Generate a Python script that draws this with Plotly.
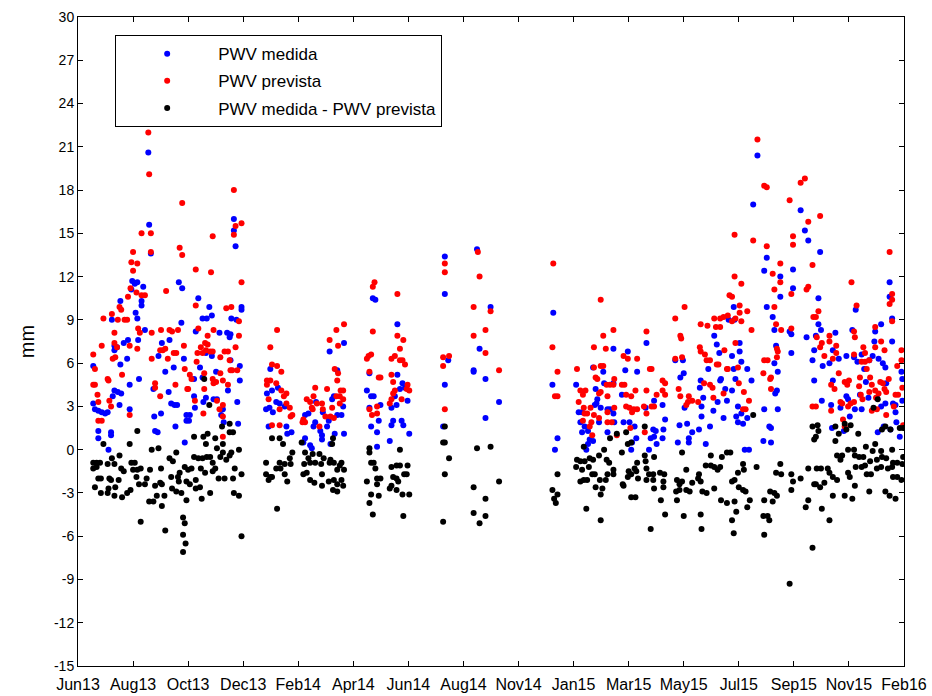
import pandas as pd
import plotly.graph_objects as go

# ---- data: (day offset from 2013-06-01, mm) ----
medida = [
(18,5.8),(18,3.2),(20,2.8),(24,2.7),(28,2.6),(32,2.5),(35,2.6),(24,1.3),(24,0.8),(39,1.2),(39,1.0),(36,0.0),(40,9.0),(43,7.2),(43,6.9),(46,7.1),(50,5.9),(43,4.1),(47,4.0),(51,3.9),(49,3.1),(41,3.7),(50,10.3),(54,7.4),(59,7.6),(58,6.3),(61,4.5),(61,2.8),(63,11.1),(64,11.7),(67,11.5),(70,11.6),(75,10.3),(75,10.0),(68,9.5),(70,9.1),(71,7.6),(72,4.9),(79,8.3),(77,11.3),(83,20.6),(84,15.6),(86,13.6),(89,4.2),(90,2.3),(91,1.3),(94,1.2),(95,6.5),(98,2.5),(99,7.4),(103,5.4),(107,4.0),(108,7.6),(110,3.2),(113,5.7),(114,3.1),(117,3.1),(115,1.6),(119,11.6),(123,11.2),(122,8.8),(125,6.3),(128,2.4),(128,2.0),(126,0.5),
(139,8.2),(142,10.5),(147,9.1),(152,9.1),(158,9.3),(155,9.9),(137,4.9),(144,5.7),(147,5.0),(151,6.7),(158,6.5),(163,5.4),(167,8.1),(176,8.1),(179,7.8),(180,8.0),(180,6.2),(181,9.1),(177,4.1),(171,2.8),(172,1.9),(169,2.4),(137,3.7),(138,2.9),(132,2.4),(131,2.0),(148,3.3),(151,3.6),(160,3.5),(164,3.5),(184,16.0),(184,15.2),(186,14.1),(187,9.0),(193,9.9),(193,9.7),(191,4.8),(188,3.3),(189,1.8),(191,5.8),
(227,5.6),(223,3.9),(229,4.1),(234,3.3),(222,2.8),(226,2.9),(230,2.6),(238,3.2),(244,3.0),(236,4.3),(225,1.6),(246,1.6),(247,1.1),(252,1.2),(266,0.5),(268,0.8),(274,0.3),(276,0.1),(268,2.4),(272,2.5),(278,1.6),(280,1.9),(281,3.3),(286,1.3),(288,1.0),(288,0.7),(294,1.6),(296,2.0),(298,0.4),(303,1.1),(297,6.8),(314,7.4),(306,5.5),(302,3.7),(306,2.4),(311,2.4),(313,3.0),(314,1.1),(300,3.5),(289,2.6),
(348,10.5),(351,10.4),(344,5.3),(341,4.1),(346,3.7),(349,3.7),(344,2.9),(357,3.1),(355,2.0),(346,1.6),(353,1.2),(353,0.2),(377,8.7),(377,5.2),(383,4.6),(380,4.2),(386,4.3),(374,3.7),(389,3.4),(376,3.1),(370,2.9),(372,2.0),(370,1.7),(382,2.0),(384,1.7),(391,1.1),(368,0.6),(433,13.4),(433,10.8),(437,6.2),(433,4.5),(431,1.6),(471,13.9),(487,9.9),(474,7.0),(467,5.5),(467,5.4),(481,4.9),(497,3.3),(481,2.2),
(561,9.5),(560,4.5),(566,0.8),(563,0.0),(632,7.0),(649,6.8),(608,5.7),(620,5.4),(588,4.5),(611,4.2),(621,4.6),(632,4.6),(646,5.5),(660,5.4),(613,3.5),(612,3.2),(617,2.9),(625,2.8),(628,2.8),(632,2.5),(610,3.1),(591,2.6),(595,2.6),(593,1.9),(598,1.6),(602,1.3),(595,1.2),(604,0.7),(608,0.6),(602,0.4),(600,0.0),(615,1.9),(625,1.2),(633,1.9),(642,3.8),(651,1.9),(644,1.9),(657,1.6),(654,0.5),(653,0.0),(659,0.8),
(671,7.4),(670,2.9),(680,3.4),(676,0.8),(680,0.9),(674,0.0),(682,1.3),(679,1.4),(683,0.4),(690,0.8),(691,1.4),(693,2.1),(690,3.1),(705,6.2),(711,5.0),(714,6.2),(715,5.3),(716,2.9),(710,1.7),(719,1.8),(721,0.8),(721,0.5),(708,0.5),(725,1.2),(733,1.4),(736,2.3),(736,3.0),(738,3.6),(734,4.3),(735,4.8),(744,5.6),(741,0.4),(746,1.6),(750,2.7),(755,3.3),(758,4.8),(759,4.9),(762,2.2),(751,7.9),(754,7.3),(757,6.7),(764,4.2),(766,3.4),(768,9.0),
(802,20.4),(797,17.0),(853,16.6),(858,15.2),(862,14.5),(813,13.3),(844,12.5),(810,12.4),(829,12.0),(829,10.6),(844,11.2),(813,9.9),(820,9.2),(822,8.3),(840,8.2),(842,8.0),(860,7.8),(869,6.9),(867,6.2),(842,6.7),(824,7.2),(822,6.0),(826,5.4),(823,3.9),(825,4.1),(826,2.8),(810,2.8),(816,1.6),(818,1.5),(809,0.6),(818,0.5),(869,4.8),(774,9.9),(775,9.0),(781,7.4),(781,6.8),(783,6.1),(772,6.5),(774,5.6),(776,4.9),(790,5.6),(795,4.8),(772,4.1),(779,3.0),(777,2.3),(783,2.5),(779,1.9),(785,1.8),(790,2.2),(787,0.0),(792,0.0),
(876,13.7),(874,10.5),(874,8.7),(877,8.3),(871,7.9),(879,5.8),(878,3.4),(894,8.1),(891,6.9),(887,6.0),(898,6.3),(918,9.7),(914,8.3),(907,6.5),(916,6.4),(920,6.1),(925,6.6),(928,5.6),(930,4.7),(934,6.2),(938,6.5),(940,7.5),(941,8.2),(948,8.7),(945,6.3),(950,6.0),(953,5.7),(954,4.6),(958,11.6),(958,10.6),(961,9.1),(961,7.5),(972,5.4),(973,4.9),(973,3.4),(891,4.8),(889,3.1),(900,2.9),(909,3.5),(907,3.7),(917,2.8),(923,3.8),(925,2.8),(933,3.6),(943,3.6),(948,3.0),(953,3.2),(962,3.2),(965,3.1),(965,2.6),(966,1.9),(970,0.9),(944,1.2),(951,1.6),(959,1.4),(890,1.5),(911,2.3),(904,1.3),
]

prevista = [
(18,6.6),(20,5.6),(18,4.5),(20,4.5),(23,3.8),(24,3.3),(24,2.0),(28,2.0),(28,7.2),(30,9.1),(35,4.9),(36,4.8),(37,3.4),(39,3.0),(40,9.4),(43,8.1),(43,7.4),(41,6.3),(44,6.4),(46,7.1),(47,9.0),(49,9.9),(51,9.7),(52,5.2),(55,9.0),(58,9.0),(59,10.6),(62,11.2),(63,13.0),(70,12.9),(65,12.4),(65,13.7),(61,7.2),(61,2.4),(71,8.4),(73,8.1),(69,10.9),(75,10.7),(79,10.7),(70,7.0),(75,15.0),(86,15.0),(83,22.0),(84,19.1),(86,13.7),(87,8.1),(87,6.3),(91,4.6),(91,4.3),(97,3.7),(97,6.9),(98,8.3),(100,6.9),(103,7.0),(104,11.0),(106,6.3),(108,8.3),(111,8.2),(113,6.7),(116,6.7),(115,4.5),(118,8.3),(120,14.0),(123,13.5),(123,17.1),(125,7.2),(126,5.6),(129,4.2),
(139,12.5),(139,10.0),(142,8.4),(141,6.7),(140,6.1),(132,5.2),(134,4.9),(130,4.2),(138,3.4),(145,7.1),(147,6.7),(150,7.4),(151,6.9),(149,4.2),(148,2.5),(149,5.3),(153,7.9),(153,7.3),(156,6.8),(159,6.8),(157,12.3),(159,14.8),(160,8.3),(159,4.9),(160,4.6),(163,4.7),(164,3.4),(167,2.8),(168,5.3),(168,6.4),(171,3.1),(171,2.3),(171,0.9),(171,4.8),(173,6.8),(177,6.8),(175,9.8),(179,6.2),(181,9.9),(177,4.5),(180,5.5),(182,5.5),(184,18.0),(184,14.9),(186,15.5),(193,15.7),(186,7.1),(188,5.5),(190,8.9),(190,7.9),(193,11.6),
(235,8.3),(227,7.1),(229,5.9),(235,5.8),(240,5.4),(223,4.8),(227,4.8),(223,4.5),(234,4.6),(225,3.5),(240,4.1),(246,3.9),(243,3.7),(246,3.2),(238,2.8),(250,2.9),(253,2.4),(251,2.3),(229,1.7),(238,1.7),(266,2.1),(268,1.9),(265,1.9),(270,3.5),(274,3.3),(277,2.8),(280,4.3),(278,3.7),(282,3.2),(288,3.2),(289,2.8),(285,1.6),(292,2.3),(294,4.2),(297,7.6),(305,8.3),(314,8.7),(307,7.2),(303,5.6),(307,5.3),(306,4.8),(310,4.1),(313,4.1),(305,3.7),(309,3.7),(313,3.5),(300,2.9),(298,2.3),(302,2.2),(309,3.2),(276,2.9),
(350,11.6),(348,11.3),(348,8.2),(343,6.5),(346,6.6),(341,6.3),(344,5.4),(355,5.0),(357,5.0),(344,2.8),(347,2.4),(353,2.5),(353,3.0),(377,10.8),(377,7.9),(384,7.6),(380,7.0),(370,6.3),(374,6.5),(380,6.2),(383,6.2),(386,5.9),(370,5.2),(372,4.7),(389,4.5),(388,4.2),(391,4.1),(374,4.1),(372,3.9),(370,3.5),(368,3.2),(382,3.5),(433,12.9),(433,12.3),(431,6.4),(438,6.5),(431,5.8),(433,2.8),(472,13.7),(474,12.0),(467,9.9),(481,8.3),(467,7.9),(481,6.7),(487,9.6),(497,5.5),
(561,12.9),(560,7.1),(566,5.4),(563,3.7),(566,3.7),(617,10.4),(620,7.9),(632,8.3),(609,7.1),(623,7.0),(589,5.6),(609,5.7),(617,5.8),(620,5.8),(611,5.0),(613,4.9),(593,4.1),(599,4.1),(596,3.8),(591,3.3),(615,3.9),(617,4.0),(624,4.5),(628,4.5),(632,4.5),(633,4.9),(625,3.7),(597,2.9),(605,2.9),(598,2.5),(601,2.5),(609,2.4),(596,2.0),(606,1.9),(604,1.6),(615,2.2),(625,1.9),(630,1.9),(625,2.6),(633,2.9),(607,1.0),(636,1.0),(644,6.5),(649,6.3),(660,6.3),(642,4.5),(645,4.5),(647,3.8),(653,3.7),(658,4.1),(647,3.0),(651,2.9),(656,2.8),(660,2.8),(654,2.6),(652,1.5),
(671,8.2),(675,5.6),(677,5.6),(671,4.1),(671,2.5),(669,1.2),(668,3.0),(677,3.0),(680,3.0),(690,4.8),(693,4.6),(690,4.1),(693,3.8),(683,3.8),(705,9.1),(711,7.9),(712,7.7),(716,9.9),(705,6.3),(713,6.4),(709,4.2),(711,3.7),(721,3.7),(720,3.3),(718,3.1),(725,3.4),(732,3.3),(735,8.7),(734,7.1),(735,6.8),(743,8.6),(751,9.1),(758,9.1),(762,9.2),(767,9.3),(753,8.5),(758,8.5),(742,6.2),(746,6.2),(739,4.6),(746,4.5),(749,4.3),(754,5.9),(756,5.9),(740,6.6),(763,6.9),(769,10.7),(766,5.6),(767,5.6),(750,3.6),(762,3.9),
(802,21.5),(810,18.3),(813,18.2),(858,18.8),(853,18.5),(840,17.3),(862,15.8),(775,14.9),(797,14.5),(844,14.8),(844,14.2),(813,14.1),(829,12.9),(820,12.2),(829,11.6),(822,11.1),(842,10.8),(860,11.1),(862,11.3),(775,12.0),(783,11.5),(772,10.6),(781,10.0),(781,9.5),(790,9.6),(776,9.1),(772,8.9),(783,8.9),(795,8.3),(776,7.4),(779,5.7),(786,4.0),(780,4.6),(792,3.4),(785,2.8),(788,2.8),(822,9.9),(824,8.7),(830,8.3),(842,8.4),(825,7.0),(826,6.8),(825,6.4),(814,6.2),(810,6.2),(818,5.0),(817,4.9),(809,5.3),(818,4.2),(867,12.8),(867,3.0),(868,9.2),
(876,16.2),(871,9.2),(874,9.6),(887,7.9),(887,7.5),(878,7.4),(876,7.1),(872,7.8),(895,7.2),(895,6.7),(881,6.5),(891,6.3),(913,11.6),(919,10.0),(916,8.2),(917,7.8),(916,6.6),(927,7.1),(929,6.7),(925,6.1),(929,6.1),(934,6.2),(941,8.5),(948,7.5),(952,6.9),(941,7.1),(958,13.7),(961,10.8),(961,10.4),(958,10.1),(961,8.9),(972,6.9),(972,6.2),(967,5.8),(898,5.3),(889,4.5),(893,4.2),(905,4.7),(910,4.8),(908,4.5),(923,5.0),(922,4.4),(931,5.6),(935,5.0),(937,4.5),(934,4.0),(941,4.1),(945,3.9),(947,4.7),(950,4.6),(952,4.2),(954,4.0),(957,4.9),(965,3.8),(968,3.8),(973,4.3),(942,3.6),(937,2.7),(943,2.8),(954,2.4),(963,3.0),(974,1.7),(900,3.3),(902,3.2),(912,3.2),(916,3.3),(909,3.0),(903,2.1),(905,1.6),(889,2.7),(871,3.0),(924,3.8),(926,3.5),
]

diferencia = [
(18,-0.9),(22,-0.9),(26,-0.9),(18,-1.3),(22,-1.2),(24,-2.0),(27,-2.0),(20,-2.6),(27,-3.0),(30,0.4),(35,-1.0),(37,-2.0),(39,-2.1),(35,-3.0),(36,-2.7),(43,-3.2),(40,-0.6),(43,-1.0),(44,-2.6),(48,-2.1),(49,-0.4),(51,-1.3),(54,-1.5),(52,-3.3),(58,-3.0),(62,-2.8),(61,0.4),(63,-0.9),(67,-0.9),(65,-1.4),(70,-1.4),(69,-1.9),(72,-2.4),(70,1.3),(74,-5.0),(74,-1.3),(79,-2.4),(81,-2.0),(84,-3.6),(85,-1.4),(87,0.0),(89,-3.6),(91,-2.5),(93,-3.2),(95,0.1),(97,-2.3),(99,-2.4),(98,-1.3),(99,-3.9),(103,-5.6),(102,-3.2),(108,-0.6),(112,-0.8),(111,-2.7),(110,-1.9),(116,-0.2),(118,-1.9),(119,-2.2),(116,-2.9),(122,-3.0),(120,-1.6),(124,-4.7),(126,-5.1),(124,-5.9),(127,-6.5),(124,-7.1),(128,-3.5),(126,-1.2),(128,-2.2),
(149,4.9),(155,3.1),(137,0.9),(148,0.9),(153,1.1),(151,0.4),(162,0.8),(170,1.6),(171,0.4),(179,1.2),(183,1.2),(179,1.8),(130,-1.4),(137,-0.5),(142,-0.6),(147,-0.6),(152,-0.5),(156,-0.5),(134,-1.3),(139,-2.1),(145,-1.3),(150,-1.6),(159,-0.9),(159,-1.5),(162,-1.3),(164,0.1),(168,-0.5),(171,-0.2),(175,-0.7),(179,-0.4),(181,-0.2),(185,-1.3),(190,0.0),(193,-1.7),(166,-2.0),(173,-2.0),(183,-2.0),(132,-2.4),(139,-2.7),(144,-2.6),(146,-3.4),(156,-3.0),(184,-3.0),(190,-3.2),(193,-6.0),
(229,0.8),(238,0.8),(242,0.4),(253,-0.2),(250,-0.6),(222,-0.9),(234,-1.3),(239,-1.3),(238,-0.9),(244,-1.0),(251,-1.0),(222,-1.7),(227,-1.9),(225,-2.1),(229,-1.9),(244,-1.7),(247,-2.2),(235,-4.1),(264,0.5),(268,-0.2),(272,-0.6),(274,-0.9),(280,-0.9),(277,-0.3),(285,-0.3),(290,-0.6),(267,-1.0),(266,-1.7),(270,-1.6),(287,-1.0),(297,-0.9),(298,-0.7),(301,0.8),(300,0.4),(302,-0.9),(311,-0.9),(309,-1.1),(314,-1.4),(306,-1.4),(288,-1.7),(274,-2.1),(279,-2.3),(296,-2.2),(288,-2.5),(302,-2.1),(306,-2.4),(311,-2.1),(313,-2.5),(306,-2.9),(301,-2.8),
(344,0.1),(344,-0.2),(380,0.0),(346,-0.9),(349,-0.9),(351,-1.3),(353,-2.0),(357,-2.0),(341,-2.2),(353,-2.4),(346,-3.1),(355,-3.2),(344,-3.7),(348,-4.5),(370,-1.2),(376,-1.1),(380,-1.1),(389,-1.1),(372,-1.9),(376,-2.0),(378,-2.2),(370,-2.5),(368,-2.7),(385,-1.7),(388,-1.7),(376,-2.8),(383,-3.1),(391,-3.1),(384,-4.6),(433,1.6),(433,0.5),(431,0.5),(438,-0.6),(433,-1.7),(431,-5.0),(471,0.1),(487,0.2),(497,-2.2),(467,-2.6),(481,-3.4),(467,-4.4),(481,-4.6),(474,-5.1),
(628,0.8),(636,1.1),(647,1.2),(597,0.2),(621,0.0),(642,-0.2),(649,0.4),(653,0.5),(566,-1.7),(560,-2.8),(566,-3.1),(562,-3.4),(564,-3.7),(589,-0.7),(593,-0.8),(598,-0.8),(588,-1.2),(595,-1.4),(604,-0.6),(608,-0.7),(603,-1.2),(607,-1.7),(593,-2.2),(597,-2.1),(601,-2.1),(610,-1.7),(615,-0.4),(616,-2.1),(611,-2.6),(619,-2.7),(617,-3.1),(624,-0.7),(627,-0.9),(625,-1.7),(632,-1.4),(632,-1.7),(623,-2.1),(643,-2.4),(644,-2.5),(649,-1.9),(653,-1.7),(650,-1.5),(657,-1.3),(659,-1.5),(660,-0.9),(653,-3.3),(658,-3.3),(661,-2.0),(600,-4.1),(617,-4.9),
(669,1.6),(713,-0.2),(747,-0.4),(760,-0.5),(766,-0.2),(770,-0.2),(669,-0.4),(670,-0.8),(680,-0.5),(671,-1.3),(674,-1.7),(679,-1.7),(687,-1.6),(692,-1.7),(671,-2.1),(679,-2.1),(691,-2.2),(680,-2.7),(691,-2.6),(718,-1.4),(733,-1.7),(707,-2.1),(710,-2.4),(713,-2.2),(725,-2.3),(706,-2.9),(710,-2.8),(718,-2.8),(722,-2.9),(732,-2.0),(735,-2.2),(737,-2.9),(741,-1.1),(747,-1.1),(751,-1.2),(755,-1.4),(758,-1.2),(742,-3.0),(751,-2.7),(759,-3.5),(766,-3.7),(688,-3.5),(707,-3.5),(693,-4.5),(715,-4.6),(735,-4.5),(676,-5.5),(736,-5.5),
(797,2.4),(867,1.6),(869,0.7),(785,-1.0),(779,-1.6),(786,-1.4),(801,-1.2),(772,-2.2),(775,-2.1),(780,-2.6),(785,-2.8),(788,-2.9),(793,-3.5),(790,-4.0),(775,-3.6),(777,-4.3),(772,-4.9),(774,-5.8),(824,-1.6),(829,-1.0),(830,-1.7),(842,-1.7),(844,-2.2),(853,-2.0),(862,-1.3),(869,-2.4),(817,-2.9),(822,-3.0),(825,-3.2),(820,-3.6),(810,-3.5),(809,-4.6),(814,-4.6),(816,-4.9),(810,-5.9),(842,-2.8),(859,-4.0),(862,-3.5),(867,-6.8),(840,-9.3),
(873,1.7),(874,1.3),(871,0.9),(894,1.6),(905,1.8),(907,1.4),(912,1.7),(898,1.1),(894,0.6),(921,1.1),(944,3.5),(939,2.9),(949,1.4),(953,1.6),(959,1.4),(970,1.5),(974,1.5),(941,0.4),(948,-0.1),(961,0.0),(896,-0.4),(902,-0.4),(900,-0.7),(909,0.0),(916,0.0),(917,-0.4),(922,-0.5),(927,-0.5),(930,0.2),(935,-0.8),(938,-0.1),(943,-0.7),(949,-0.5),(954,-0.6),(962,-0.9),(967,-0.9),(973,-1.0),(974,-0.5),(925,-1.2),(929,-1.1),(918,-1.2),(931,-1.7),(943,-1.3),(948,-1.2),(956,-1.3),(961,-1.2),(936,-1.7),(962,-1.9),(967,-1.9),(972,-2.1),(872,-1.3),(877,-1.3),(885,-1.3),(887,-1.6),(891,-1.9),(896,-2.1),(876,-2.6),(871,-2.4),(881,-2.3),(911,-1.9),(909,-1.6),(917,-2.5),(934,-2.9),(953,-2.9),(958,-3.2),(965,-3.4),(891,-3.2),(905,-3.2),(914,-3.4),(878,-4.1),(887,-4.9),
]

tick_labels = ["Jun13", "Aug13", "Oct13", "Dec13", "Feb14", "Apr14", "Jun14", "Aug14",
               "Nov14", "Jan15", "Mar15", "May15", "Jul15", "Sep15", "Nov15", "Feb16"]
tick_step_days = 65
y_ticks = list(range(-15, 31, 3))

series_names = ["PWV medida", "PWV prevista", "PWV medida - PWV prevista"]
series_colors = ["#0000ff", "#ff0000", "#000000"]

base = pd.Timestamp("2013-06-01")


def to_dates(days):
    return [base + pd.Timedelta(days=int(d)) for d in days]


fig = go.Figure()
for i, (data, name, color) in enumerate(zip([medida, prevista, diferencia], series_names, series_colors)):
    days, vals = zip(*sorted(data))
    fig.add_trace(go.Scatter(
        x=to_dates(days), y=list(vals), mode="markers", name=name,
        legendgroup=f"g{i}",
        marker=dict(color=color, size=6, line=dict(width=0)),
    ))

tick_vals = [base + pd.Timedelta(days=tick_step_days * i) for i in range(len(tick_labels))]

font_family = "Liberation Sans, Arial, Helvetica, sans-serif"
fig.update_layout(
    width=932, height=696,
    margin=dict(l=78, r=28, t=17, b=30, pad=0),
    paper_bgcolor="white", plot_bgcolor="white",
    font=dict(family=font_family, color="black"),
    showlegend=True,
    legend=dict(
        x=0.045, y=0.972, xanchor="left", yanchor="top",
        bgcolor="white", bordercolor="black", borderwidth=1,
        font=dict(size=17, family=font_family), itemwidth=92,
        tracegroupgap=2,
    ),
    xaxis=dict(
        range=[tick_vals[0], tick_vals[-1]], tickvals=tick_vals, ticktext=tick_labels,
        ticks="inside", ticklen=5, tickcolor="black", mirror="allticks",
        showline=True, linecolor="black", linewidth=1, showgrid=False, zeroline=False,
        tickfont=dict(size=16, family=font_family), tickangle=0,
        automargin=False, ticklabelstandoff=4,
    ),
    yaxis=dict(
        range=[-15, 30], tickvals=y_ticks, ticktext=[str(v) for v in y_ticks],
        ticks="inside", ticklen=5, tickcolor="black", mirror="allticks",
        showline=True, linecolor="black", linewidth=1, showgrid=False, zeroline=False,
        tickfont=dict(size=14, family=font_family), automargin=False,
        title=dict(text="mm", font=dict(size=20, family=font_family), standoff=13),
    ),
)

fig.write_html("out.html")
